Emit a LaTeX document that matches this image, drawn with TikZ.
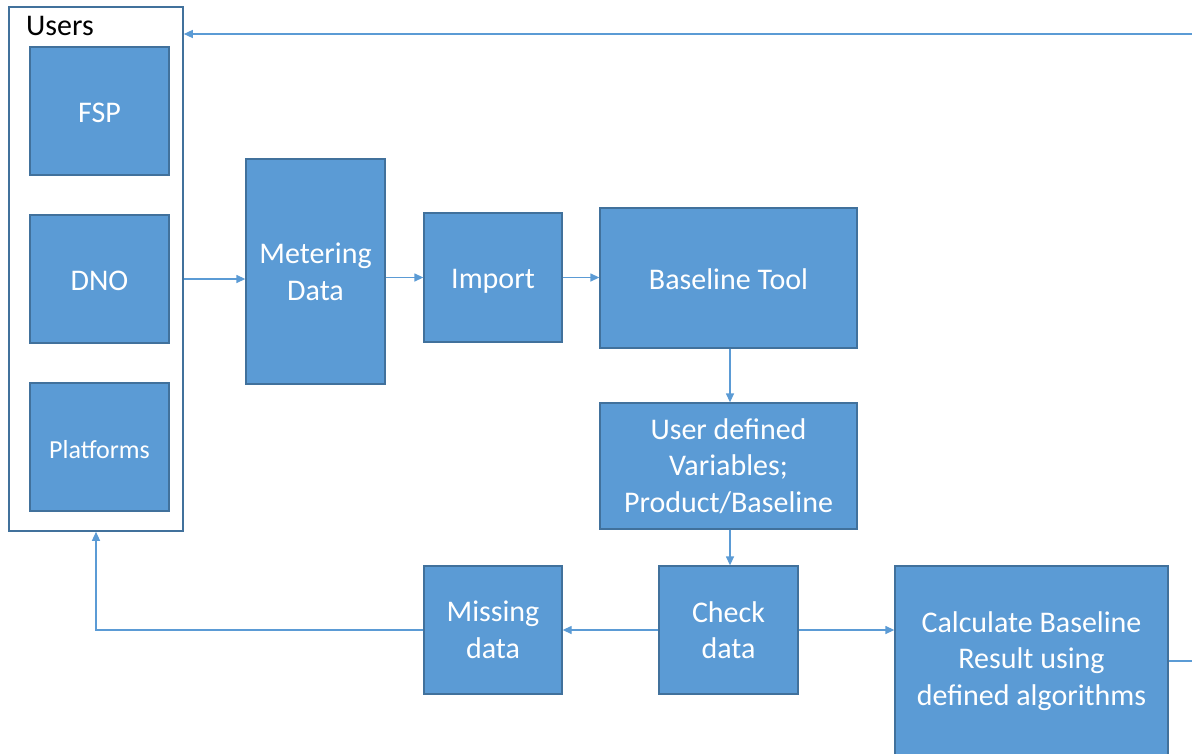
\documentclass[tikz,border=0pt]{standalone}
\usepackage{fontspec}
\setmainfont{Carlito}
\usetikzlibrary{arrows.meta}
\definecolor{boxfill}{HTML}{5B9BD5}
\definecolor{boxline}{HTML}{41719C}
\definecolor{conn}{HTML}{5B9BD5}
\tikzset{
  blk/.style={draw=boxline, line width=1.3pt, fill=boxfill, text=white, align=center,
    inner sep=0pt, font=\fontsize{30}{36.6}\selectfont},
  oneline/.style={execute at begin node={\rule{0pt}{29pt}},
    execute at end node={\rule[-7pt]{0pt}{7pt}}},
  grp/.style={draw=boxline, line width=1.6pt, fill=white, inner sep=0pt},
  conn/.style={draw=conn, line width=1.3pt, -{Triangle[length=9pt,width=8pt]}}
}
\begin{document}
\begin{tikzpicture}[x=1pt,y=-1pt]
\useasboundingbox (0,0) rectangle (1192,753);
\clip (0,0) rectangle (1192,753);
% users group
\node[grp, minimum width=174pt, minimum height=524pt] (users) at (96,269) {};
\node[anchor=base west, inner sep=0pt, font=\fontsize{30}{36.6}\selectfont] (userslbl) at (26,35) {Users};
\node[blk, oneline, minimum width=139pt, minimum height=128pt] (fsp) at (99.5,111) {FSP};
\node[blk, oneline, minimum width=139pt, minimum height=128pt] (dno) at (99.5,279) {DNO};
\node[blk, oneline, minimum width=139pt, minimum height=128pt, font=\fontsize{26}{31.7}\selectfont] (plat) at (99.5,447) {Platforms};
% main flow
\node[blk, minimum width=139pt, minimum height=225pt] (meter) at (315.5,271.5) {Metering\\Data};
\node[blk, oneline, minimum width=138pt, minimum height=129pt] (import) at (493,277.5) {Import};
\node[blk, oneline, minimum width=257pt, minimum height=140pt] (base) at (728.5,278) {Baseline Tool};
\node[blk, minimum width=257pt, minimum height=126pt] (udef) at (728.5,466) {User defined\\Variables;\\Product/Baseline};
\node[blk, minimum width=139pt, minimum height=128pt] (check) at (728.5,630) {Check\\data};
\node[blk, minimum width=138pt, minimum height=128pt] (miss) at (493,630) {Missing\\data};
\node[blk, minimum width=273pt, minimum height=190pt] (calc) at (1031.5,661) {Calculate Baseline\\Result using\\defined algorithms};
% connectors
\draw[conn] (users.east |- dno.center) -- (meter.west |- dno.center);
\draw[conn] (meter.east |- import.center) -- (import.west);
\draw[conn] (import.east) -- (base.west |- import.center);
\draw[conn] (base.south -| 730,0) -- (udef.north -| 730,0);
\draw[conn] (udef.south -| 730,0) -- (check.north -| 730,0);
\draw[conn] (check.west) -- (miss.east);
\draw[conn] (check.east) -- (calc.west |- check.center);
\draw[conn] (miss.west) -- (users.south |- miss.west) -- (users.south);
\coordinate (rt) at (1215,661);
\coordinate (rtop) at (1215,34);
\draw[conn] (calc.east |- rt) -- (rt) -- (rtop) -- (users.east |- rtop);
\end{tikzpicture}
\end{document}
